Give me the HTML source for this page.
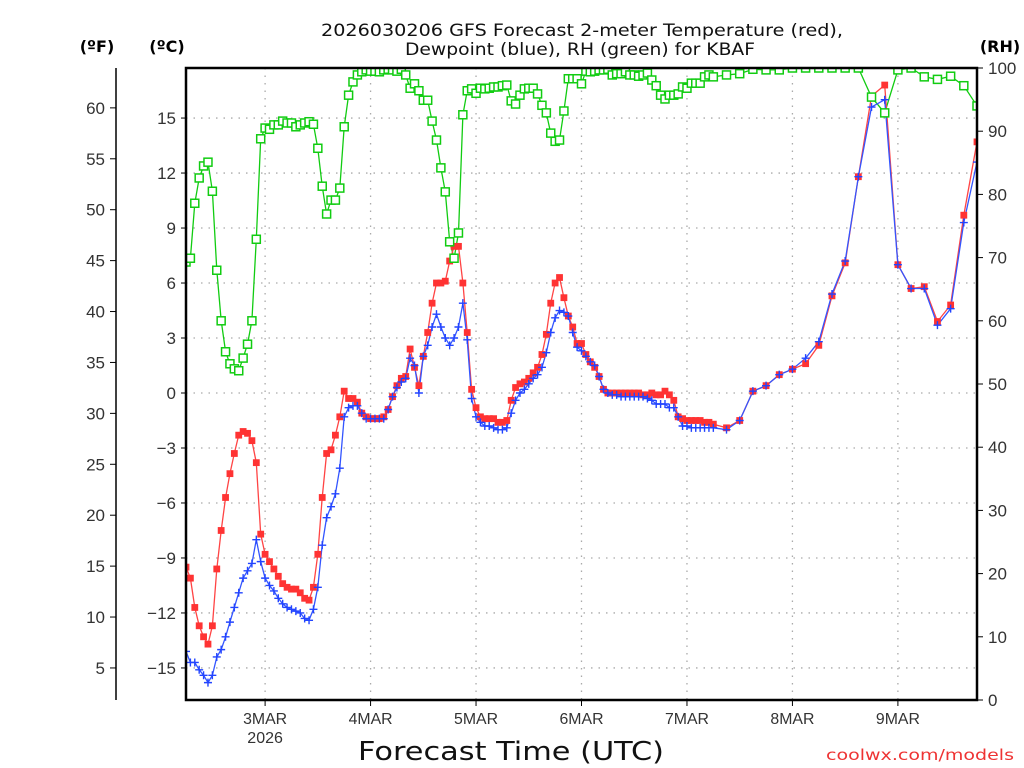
<!DOCTYPE html>
<html><head><meta charset="utf-8"><style>
html,body{margin:0;padding:0;background:#fff;}
svg{display:block;}
text{font-family:"DejaVu Sans","Liberation Sans",sans-serif;}
.tl{font-family:"Liberation Sans",sans-serif;}
</style></head><body>
<svg id="chart" width="1024" height="768" viewBox="0 0 1024 768">
<defs><clipPath id="pc"><rect x="186" y="68" width="791" height="632"/></clipPath></defs>
<g>
<text x="582" y="36" font-size="17" text-anchor="middle" fill="#111" textLength="522" lengthAdjust="spacingAndGlyphs">2026030206 GFS Forecast 2-meter Temperature (red),</text>
<text x="580" y="55" font-size="17" text-anchor="middle" fill="#111" textLength="350" lengthAdjust="spacingAndGlyphs">Dewpoint (blue), RH (green) for KBAF</text>
</g>
<text x="97" y="52" font-size="16" font-weight="bold" text-anchor="middle">(ºF)</text>
<text x="167" y="52" font-size="16" font-weight="bold" text-anchor="middle">(ºC)</text>
<text x="1000" y="52" font-size="16" font-weight="bold" text-anchor="middle">(RH)</text>
<g id="grid"></g>
<g id="axes"></g>
<g id="series" clip-path="url(#pc)"></g>
<rect x="186" y="68" width="791" height="632" fill="none" stroke="#000" stroke-width="2.5"/>
<text x="511" y="760" font-size="26" text-anchor="middle" fill="#111" textLength="306" lengthAdjust="spacingAndGlyphs">Forecast Time (UTC)</text>
<text x="920" y="760" font-size="15" text-anchor="middle" fill="#e33" font-family="DejaVu Sans Mono,monospace" textLength="188" lengthAdjust="spacingAndGlyphs">coolwx.com/models</text>
</svg>
<script>
const hours=[0,1,2,3,4,5,6,7,8,9,10,11,12,13,14,15,16,17,18,19,20,21,22,23,24,25,26,27,28,29,30,31,32,33,34,35,36,37,38,39,40,41,42,43,44,45,46,47,48,49,50,51,52,53,54,55,56,57,58,59,60,61,62,63,64,65,66,67,68,69,70,71,72,73,74,75,76,77,78,79,80,81,82,83,84,85,86,87,88,89,90,91,92,93,94,95,96,97,98,99,100,101,102,103,104,105,106,107,108,109,110,111,112,113,114,115,116,117,118,119,120,123,126,129,132,135,138,141,144,147,150,153,156,159,162,165,168,171,174,177,180];
const tempC=[-9.5,-10.1,-11.7,-12.7,-13.3,-13.7,-12.7,-9.6,-7.5,-5.7,-4.4,-3.3,-2.3,-2.1,-2.2,-2.6,-3.8,-7.7,-8.8,-9.2,-9.6,-10.0,-10.4,-10.6,-10.7,-10.7,-10.9,-11.2,-11.3,-10.6,-8.8,-5.7,-3.3,-3.1,-2.3,-1.3,0.1,-0.3,-0.3,-0.5,-1.1,
-1.3,-1.4,-1.4,-1.4,-1.3,-0.9,-0.2,0.4,0.8,0.9,2.4,1.4,0.4,2.0,3.3,4.9,6.0,6.0,6.1,7.2,8.0,8.0,6.0,3.3,0.2,-0.8,-1.3,-1.4,-1.4,-1.4,-1.6,-1.6,-1.5,-0.4,0.3,0.5,0.6,0.8,1.1,1.4,2.1,3.2,4.9,6.0,6.3,5.2,4.2,3.6,2.7,2.7,2.1,1.7,1.4,0.9,
0.2,0.0,0.0,0.0,0.0,0.0,0.0,0.0,0.0,-0.1,-0.1,0.0,-0.1,-0.1,0.1,-0.1,-0.4,-1.3,-1.4,-1.5,-1.5,-1.5,-1.5,-1.6,-1.6,-1.7,
-1.9,-1.5,0.1,0.4,1.0,1.3,1.6,2.6,5.3,7.1,11.8,16.2,16.8,7.0,5.7,5.8,3.9,4.8,9.7,13.7];
const dewC=[-14.1,-14.7,-14.7,-15.1,-15.4,-15.8,-15.4,-14.4,-14.0,-13.3,-12.5,-11.7,-10.9,-10.1,-9.7,-9.3,-8.0,-9.2,-10.1,-10.5,-10.8,-11.2,-11.5,-11.7,-11.8,-11.9,-12.0,-12.3,-12.4,-11.8,-10.6,-8.3,-6.8,-6.2,-5.5,-4.1,-1.3,-0.8,-0.7,-0.7,-1.1,
-1.4,-1.4,-1.4,-1.4,-1.4,-0.9,-0.2,0.3,0.6,0.8,1.9,1.5,0.0,2.0,2.6,3.6,4.3,3.6,3.0,2.6,3.0,3.6,4.9,2.9,-0.3,-1.3,-1.6,-1.8,-1.8,-1.9,-2.0,-2.0,-1.9,-1.1,-0.4,0.0,0.2,0.5,0.8,1.0,1.4,2.2,3.3,4.1,4.5,4.4,4.2,3.3,2.5,2.3,2.0,1.7,1.5,0.9,
0.2,0.0,-0.1,-0.1,-0.2,-0.2,-0.2,-0.2,-0.2,-0.2,-0.3,-0.4,-0.6,-0.6,-0.6,-0.8,-0.8,-1.3,-1.8,-1.8,-1.9,-1.9,-1.9,-1.9,-1.9,-1.9,
-2.0,-1.5,0.1,0.4,1.0,1.3,1.9,2.8,5.4,7.2,11.8,15.6,16.0,7.0,5.7,5.7,3.7,4.6,9.3,12.6];
const rhPct=[69.3,69.9,78.6,82.6,84.5,85.1,80.5,68.0,60.0,55.1,53.2,52.4,52.1,54.1,56.3,60.0,72.9,88.8,90.5,90.3,91.0,91.0,91.6,91.3,91.3,90.7,91.0,91.3,91.5,91.1,87.3,81.3,76.9,79.1,79.1,81.0,90.7,95.7,97.8,98.9,99.4,
99.7,99.5,99.5,99.4,99.7,99.8,99.7,99.5,99.8,98.9,96.8,97.5,96.4,94.9,94.9,91.6,88.6,84.2,80.4,72.5,69.9,73.9,92.6,96.4,96.7,96.0,96.8,96.7,96.8,97.0,97.0,97.2,97.3,94.8,94.3,95.7,96.7,96.8,96.8,95.9,94.1,92.9,89.7,88.4,88.6,93.2,98.3,98.3,98.3,97.5,99.5,99.4,99.5,99.7,
99.7,99.8,98.9,99.1,99.1,99.4,98.9,98.9,98.7,98.9,99.2,98.1,97.2,95.7,95.1,95.7,95.7,95.9,97.0,96.8,97.6,97.6,97.6,98.6,98.9,98.6,
98.9,99.1,99.8,99.7,99.7,100,100,100,100,100,100,95.4,92.9,99.7,100,98.6,98.2,98.7,97.2,94.0];
const dayLabels=["3MAR","4MAR","5MAR","6MAR","7MAR","8MAR","9MAR"];
const dayHours=[18,42,66,90,114,138,162];
const cTicks=[-15,-12,-9,-6,-3,0,3,6,9,12,15];
const fTicks=[5,10,15,20,25,30,35,40,45,50,55,60];
const rhTicks=[0,10,20,30,40,50,60,70,80,90,100];

const NS="http://www.w3.org/2000/svg";
const X0=186,X1=977,HMAX=180;
function xS(h){return X0+h*(X1-X0)/HMAX;}
function yC(t){return 393-t*18.33;}
function yF(f){return yC((f-32)*5/9);}
function yRH(r){return 700-r*6.32;}
function mk(tag,attrs,parent){const e=document.createElementNS(NS,tag);for(const k in attrs)e.setAttribute(k,attrs[k]);parent.appendChild(e);return e;}
const grid=document.getElementById('grid'),axes=document.getElementById('axes'),series=document.getElementById('series');
const dash={stroke:"#aaa","stroke-width":1.3,"stroke-dasharray":"1.5,6"};
cTicks.forEach(t=>{
  const l=mk('line',Object.assign({x1:X0,x2:X1,y1:yC(t),y2:yC(t)},dash),grid);
  
  
  const tk=mk('line',{x1:181,x2:186,y1:yC(t),y2:yC(t),stroke:"#000","stroke-width":1},axes);
  
  
  const tx=mk('text',{x:176,y:yC(t)+6,"font-size":17,"text-anchor":"end",fill:"#333","class":"tl"},axes);
  tx.textContent=(t<0?"\u2212"+Math.abs(t):String(t));
  
  
});
const fl=mk('line',{x1:116,x2:116,y1:68,y2:700,stroke:"#000","stroke-width":1.5},axes);


fTicks.forEach(f=>{
  const tk=mk('line',{x1:110,x2:116,y1:yF(f),y2:yF(f),stroke:"#000","stroke-width":1},axes);
  
  
  const tx=mk('text',{x:105,y:yF(f)+6,"font-size":17,"text-anchor":"end",fill:"#333","class":"tl"},axes);
  tx.textContent=String(f);
  
  
});
rhTicks.forEach(r=>{
  const tk=mk('line',{x1:977,x2:983,y1:yRH(r),y2:yRH(r),stroke:"#000","stroke-width":1},axes);
  
  
  const tx=mk('text',{x:988,y:yRH(r)+6,"font-size":17,fill:"#333","class":"tl"},axes);
  tx.textContent=String(r);
  
  
});
dayHours.forEach((h,i)=>{
  const x=xS(h);
  const l=mk('line',Object.assign({x1:x,x2:x,y1:68,y2:700},dash),grid);
  
  
  const tk=mk('line',{x1:x,x2:x,y1:700,y2:706,stroke:"#000","stroke-width":1},axes);
  
  
  const tx=mk('text',{x:x,y:724,"font-size":16,"text-anchor":"middle",fill:"#333","class":"tl",textLength:44,lengthAdjust:"spacingAndGlyphs"},axes);
  tx.textContent=dayLabels[i];
  
  
});
const yr=mk('text',{x:xS(18),y:743,"font-size":16,"text-anchor":"middle",fill:"#333","class":"tl"},axes);
yr.textContent="2026";



function drawLine(vals,yf,color,name){
  const pts=hours.map((h,i)=>xS(h).toFixed(1)+","+yf(vals[i]).toFixed(1)).join(" ");
  const p=mk('polyline',{points:pts,fill:"none",stroke:color,"stroke-width":1.3},series);
  
  
}
drawLine(rhPct,yRH,"#1c1","rh-line");
drawLine(tempC,yC,"#f44","temperature-line");
drawLine(dewC,yC,"#3355ff","dewpoint-line");
hours.forEach((h,i)=>{
  const x=xS(h),y=yC(tempC[i]);
  const m=mk('rect',{x:x-3.4,y:y-3.4,width:6.8,height:6.8,fill:"#f33"},series);
  
  
});
hours.forEach((h,i)=>{
  const x=xS(h),y=yC(dewC[i]);
  const m=mk('path',{d:`M${x-4},${y}H${x+4}M${x},${y-4}V${y+4}`,stroke:"#2244ff","stroke-width":1.4,fill:"none"},series);
  
  
});
hours.forEach((h,i)=>{
  const x=xS(h),y=yRH(rhPct[i]);
  const m=mk('rect',{x:x-4,y:y-4,width:8,height:8,fill:"#fff",stroke:"#1c1","stroke-width":1.5},series);
  
  
});
</script>
</body></html>
